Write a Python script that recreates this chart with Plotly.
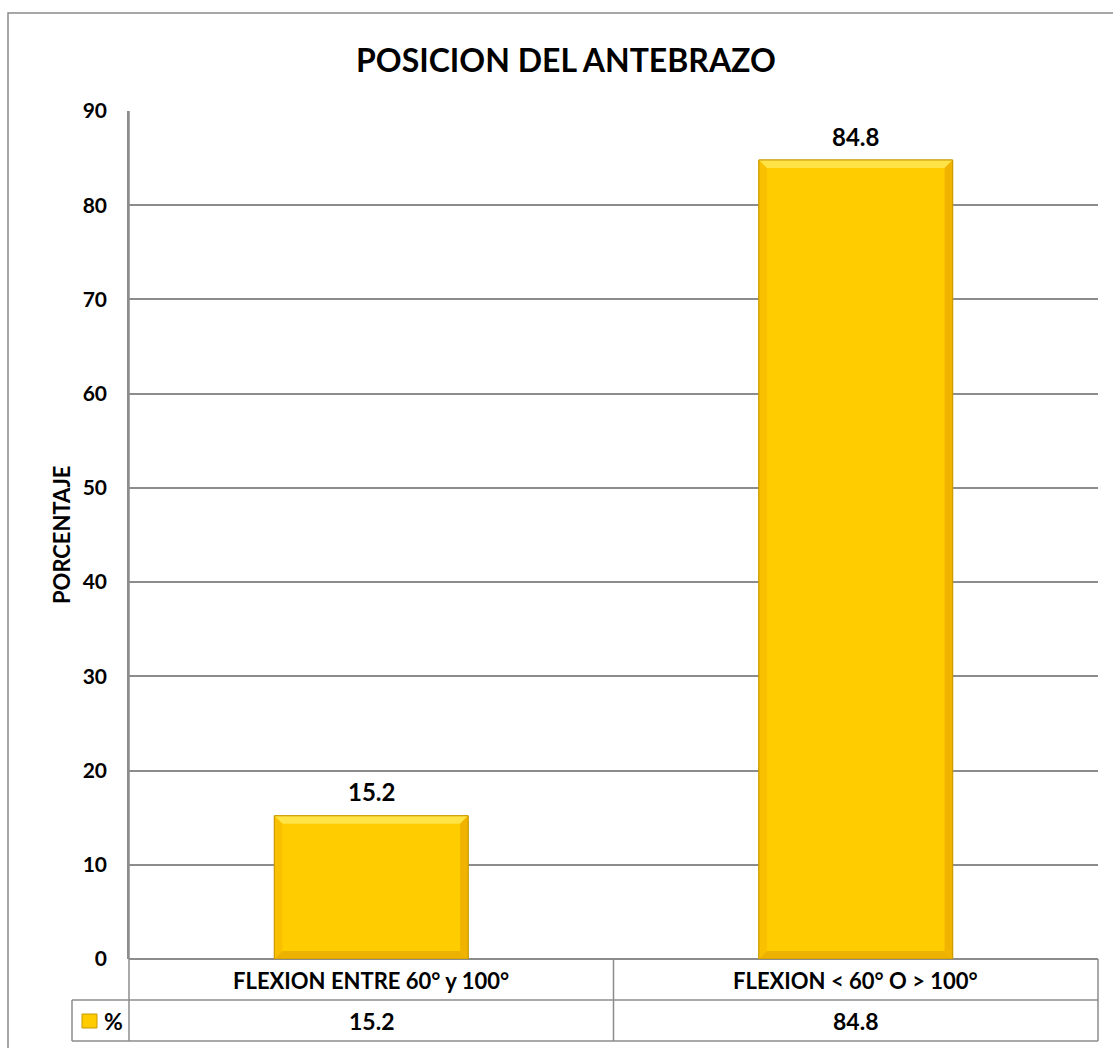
import plotly.graph_objects as go

# Chart data
categories = ["FLEXION ENTRE 60° y 100°", "FLEXION < 60° O > 100°"]
values = [15.2, 84.8]
series_name = "%"
y_ticks = [0, 10, 20, 30, 40, 50, 60, 70, 80, 90]

title_text = "POSICION DEL ANTEBRAZO"
y_title = "PORCENTAJE"

FONT = "Lato"
GRID = "#8c8c8c"
GOLD = "#FFCC00"
BAR_W = 0.4

W, H = 1113, 1048
ML, MR, MT, MB = 129, 15, 111, 89
plot_w = W - ML - MR
plot_h = H - MT - MB


def px_x(px):
    """Pixel column -> paper x."""
    return (px - ML) / plot_w


def px_y(py):
    """Pixel row -> paper y."""
    return (H - MB - py) / plot_h


xs = list(range(len(categories)))

fig = go.Figure()
fig.add_trace(go.Bar(
    x=xs, y=values, width=BAR_W, name=series_name,
    marker=dict(color=GOLD, line=dict(color="#C99A00", width=1)),
    hoverinfo="x+y", showlegend=False,
))

# Bevel facets on each bar (sizes in axis units)
y_per_px = 90 / plot_h
x_per_px = 2 / plot_w
dx, dy = 8 * x_per_px, 8 * y_per_px
shapes = []
for i, v in zip(xs, values):
    l, r = i - BAR_W / 2, i + BAR_W / 2
    facets = [
        ([(l, v), (r, v), (r - dx, v - dy), (l + dx, v - dy)], "#FFE347"),   # top
        ([(r, v), (r, 0), (r - dx, dy), (r - dx, v - dy)], "#EFB300"),      # right
        ([(l, v), (l + dx, v - dy), (l + dx, dy), (l, 0)], "#F9C000"),      # left
        ([(l, 0), (r, 0), (r - dx, dy), (l + dx, dy)], "#EDB200"),          # bottom
    ]
    for pts, col in facets:
        path = "M " + " L ".join(f"{a},{b}" for a, b in pts) + " Z"
        shapes.append(dict(type="path", xref="x", yref="y", path=path,
                           fillcolor=col, line=dict(width=0), layer="above"))
    shapes.append(dict(type="rect", xref="x", yref="y", x0=l, x1=r, y0=0, y1=v,
                       line=dict(color="#C99A00", width=1), layer="above"))

line_style = dict(color=GRID, width=1.5)
tbl_top, row_mid, tbl_bot = px_y(959), px_y(1000), px_y(1041)
leg_left = px_x(72)
mid_x = 0.5

# Outer chart border
shapes.append(dict(type="rect", xref="paper", yref="paper",
                   x0=px_x(8), x1=px_x(1130), y0=px_y(1070), y1=px_y(13),
                   line=dict(color="#8a8a8a", width=1.5), layer="below"))
# Data table grid
for y0 in (row_mid, tbl_bot):
    shapes.append(dict(type="line", xref="paper", yref="paper",
                       x0=leg_left, x1=1, y0=y0, y1=y0, line=line_style))
shapes.append(dict(type="line", xref="paper", yref="paper",
                   x0=leg_left, x1=leg_left, y0=row_mid, y1=tbl_bot, line=line_style))
shapes.append(dict(type="line", xref="paper", yref="paper",
                   x0=0, x1=0, y0=tbl_bot, y1=1, line=line_style))
for xv in (mid_x, 1):
    shapes.append(dict(type="line", xref="paper", yref="paper",
                       x0=xv, x1=xv, y0=tbl_bot, y1=tbl_top, line=line_style))
# Legend key in the table
shapes.append(dict(type="rect", xref="paper", yref="paper",
                   x0=px_x(82), x1=px_x(97), y0=px_y(1028), y1=px_y(1014),
                   fillcolor=GOLD, line=dict(color="#C99A00", width=1)))

bold = dict(family=FONT, color="black", weight="bold")
center = dict(xanchor="center", yanchor="middle", showarrow=False)
annotations = [
    dict(text=title_text, xref="paper", yref="paper", x=px_x(566), y=px_y(60),
         font=dict(size=32, **bold), **center),
    dict(text=y_title, xref="paper", yref="paper", x=px_x(61), y=0.5,
         textangle=-90, font=dict(size=22, **bold), **center),
    dict(text=series_name, xref="paper", yref="paper", x=px_x(113), y=px_y(1021),
         font=dict(size=23, **bold), **center),
]
for i, (cat, v) in enumerate(zip(categories, values)):
    cx = (i + 0.5) / len(categories)
    annotations.append(dict(text=cat, xref="paper", yref="paper", x=cx, y=px_y(980),
                            font=dict(size=22, **bold), **center))
    annotations.append(dict(text=f"{v:.1f}", xref="paper", yref="paper", x=cx, y=px_y(1021),
                            font=dict(size=23, **bold), **center))
    annotations.append(dict(text=f"{v:.1f}", xref="x", yref="y", x=i, y=v,
                            yshift=24, font=dict(size=24, **bold), **center))

fig.update_layout(
    width=W, height=H,
    margin=dict(l=ML, r=MR, t=MT, b=MB),
    paper_bgcolor="white", plot_bgcolor="white",
    shapes=shapes, annotations=annotations,
    showlegend=False,
    xaxis=dict(range=[-0.5, len(categories) - 0.5], showticklabels=False,
               showgrid=False, zeroline=False, showline=False, fixedrange=True),
    yaxis=dict(range=[0, 90], tickvals=y_ticks, showgrid=True, gridcolor=GRID,
               gridwidth=1.5, zeroline=True, zerolinecolor=GRID, zerolinewidth=1.5,
               showline=True, linecolor=GRID, linewidth=1.5,
               tickfont=dict(size=21, **bold), ticks="", ticklabelstandoff=16,
               fixedrange=True),
)

fig.write_html("out.html")
